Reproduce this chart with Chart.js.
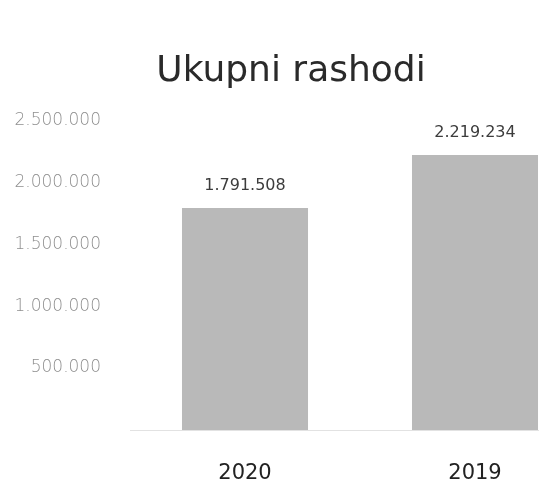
<!DOCTYPE html>
<html>
<head>
<meta charset="utf-8">
<script src="https://cdn.jsdelivr.net/npm/chart.js@4.4.1/dist/chart.umd.min.js"></script>
<style>
  html, body { margin: 0; padding: 0; background: #fff; overflow: hidden; }
  #wrap { position: relative; width: 539px; height: 481px; overflow: hidden; }
  /* chart is a bit wider than the page: the 2019 bar is cut at the right edge */
  #chart { position: absolute; left: -40px; top: 0; }
</style>
</head>
<body>
<div id="wrap">
  <canvas id="chart" width="640" height="481"></canvas>
</div>
<script>
const categories = ['2020', '2019'];
const rashodi = [1791508, 2219234];
const yTickValues = [0, 500000, 1000000, 1500000, 2000000, 2500000];

// 1791508 -> "1.791.508"
function fmt(v) {
    return String(v).replace(/\B(?=(\d{3})+(?!\d))/g, '.');
}

const valueLabels = {
    id: 'valueLabels',
    afterDatasetsDraw(chart) {
        const ctx = chart.ctx;
        const meta = chart.getDatasetMeta(0);
        ctx.save();
        ctx.font = '16px "DejaVu Sans"';
        ctx.fillStyle = '#3c3c3c';
        ctx.textAlign = 'center';
        ctx.textBaseline = 'middle';
        meta.data.forEach((bar, i) => {
            ctx.fillText(fmt(chart.data.datasets[0].data[i]), bar.x, bar.y - 22);
        });
        ctx.restore();
    }
};

const ctx = document.getElementById('chart').getContext('2d');
new Chart(ctx, {
    type: 'bar',
    data: {
        labels: categories,
        datasets: [{
            label: 'Ukupni rashodi',
            data: rashodi,
            backgroundColor: '#b9b9b9',
            borderWidth: 0,
            categoryPercentage: 1,
            barPercentage: 0.548,
        }]
    },
    options: {
        responsive: false,
        animation: false,
        layout: { padding: { left: 32, right: 10, top: 0, bottom: 0 } },
        plugins: {
            legend: { display: false },
            tooltip: { enabled: false },
            title: {
                display: true,
                text: 'Ukupni rashodi',
                color: '#2a2a2a',
                font: { family: 'DejaVu Sans', size: 36, weight: 'normal' },
                padding: { top: 50, bottom: 27 },
            }
        },
        scales: {
            x: {
                grid: { display: false },
                border: { display: true, color: '#e2e2e2', dash: [2, 5] },
                ticks: {
                    color: '#222',
                    font: { family: 'DejaVu Sans', size: 21 },
                    padding: 23,
                },
                afterFit(scale) { scale.height = 51; }
            },
            y: {
                min: 0,
                max: 2500000,
                grid: { display: false, drawTicks: false },
                border: { display: false },
                afterBuildTicks(scale) {
                    scale.ticks = yTickValues.map(v => ({ value: v }));
                },
                ticks: {
                    color: '#8f8f8f',
                    font: { family: 'DejaVu Sans', size: 17, weight: '200' },
                    padding: 29,
                    callback: v => v === 0 ? '' : fmt(v),
                },
                afterFit(scale) { scale.width = 138; }
            }
        }
    },
    plugins: [valueLabels]
});
</script>
</body>
</html>
